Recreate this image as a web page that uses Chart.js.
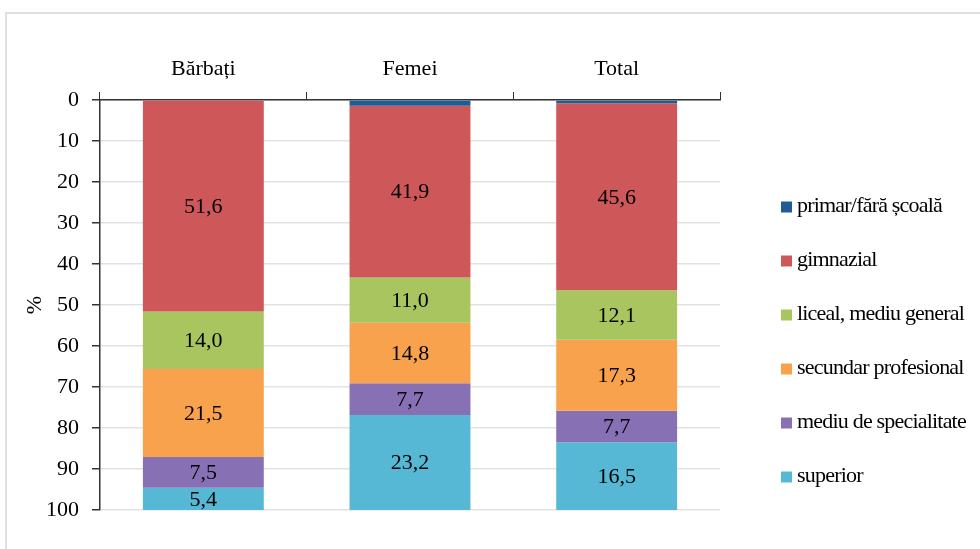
<!DOCTYPE html>
<html>
<head>
<meta charset="utf-8">
<script src="https://cdn.jsdelivr.net/npm/chart.js@4"></script>
<style>
  html, body { margin: 0; padding: 0; background: #fff; }
  #wrap { position: relative; width: 980px; height: 549px; }
  #frame { position: absolute; left: 5px; top: 12px; right: -10px; bottom: -10px;
           border-left: 2px solid #e0e0e0; border-top: 2px solid #e0e0e0; }
  canvas { position: absolute; left: 0; top: 0; }
</style>
</head>
<body>
<div id="wrap">
  <div id="frame"></div>
  <canvas id="c" width="980" height="549"></canvas>
</div>
<script>
const categories = ['Bărbați', 'Femei', 'Total'];
const seriesNames = ['primar/fără școală', 'gimnazial', 'liceal, mediu general',
                     'secundar profesional', 'mediu de specialitate', 'superior'];
const primar     = [0.0, 1.4, 0.8];
const gimnazial  = [51.6, 41.9, 45.6];
const liceal     = [14.0, 11.0, 12.1];
const secundar   = [21.5, 14.8, 17.3];
const mediu      = [7.5, 7.7, 7.7];
const superior   = [5.4, 23.2, 16.5];
const yTicks     = [0, 10, 20, 30, 40, 50, 60, 70, 80, 90, 100];
const colors = ['#1f5c96', '#cd5759', '#a8c560', '#f8a24e', '#8870b4', '#56b8d4'];
const showLabels = [false, true, true, true, true, true];

const FONT = 'Liberation Serif, Times New Roman, serif';
const values = [primar, gimnazial, liceal, secundar, mediu, superior];

const datasets = values.map((v, i) => ({
  label: seriesNames[i],
  data: v,
  backgroundColor: colors[i],
  borderWidth: 0,
  categoryPercentage: 1.0,
  barPercentage: 0.585
}));

const labelPlugin = {
  id: 'segLabels',
  afterDatasetsDraw(chart) {
    const ctx = chart.ctx;
    ctx.save();
    ctx.font = '22px ' + FONT;
    ctx.fillStyle = '#000';
    ctx.textAlign = 'center';
    ctx.textBaseline = 'middle';
    chart.data.datasets.forEach((ds, di) => {
      if (!showLabels[di]) return;
      const meta = chart.getDatasetMeta(di);
      meta.data.forEach((bar, j) => {
        const p = bar.getProps(['x', 'y', 'base'], true);
        const cy = (p.y + p.base) / 2;
        ctx.fillText(ds.data[j].toFixed(1).replace('.', ','), p.x, cy + 1);
      });
    });
    ctx.restore();
  }
};

const legendPlugin = {
  id: 'sideLegend',
  afterDraw(chart) {
    const ctx = chart.ctx;
    ctx.save();
    ctx.font = '22px ' + FONT;
    try { ctx.letterSpacing = '-0.8px'; } catch (e) {}
    ctx.textAlign = 'left';
    ctx.textBaseline = 'alphabetic';
    const x0 = 781, y0 = 207, step = 54, box = 11;
    chart.data.datasets.forEach((ds, i) => {
      const cy = y0 + i * step;
      ctx.fillStyle = ds.backgroundColor;
      ctx.fillRect(x0, cy - box / 2, box, box);
      ctx.fillStyle = '#000';
      ctx.fillText(ds.label, x0 + 16, cy + 5);
    });
    ctx.restore();
  }
};

new Chart(document.getElementById('c'), {
  type: 'bar',
  data: { labels: categories, datasets },
  plugins: [labelPlugin, legendPlugin],
  options: {
    responsive: false,
    animation: false,
    devicePixelRatio: 1,
    layout: { padding: { left: 0, top: 0, right: 260, bottom: 39 } },
    plugins: { legend: { display: false }, tooltip: { enabled: false } },
    scales: {
      x: {
        position: 'top',
        stacked: true,
        offset: true,
        afterFit(scale) { scale.height = 100; },
        grid: { drawOnChartArea: false, offset: true, tickLength: 8, tickColor: '#333', color: '#333' },
        border: { color: '#333', width: 1.5 },
        ticks: { color: '#000', font: { family: FONT, size: 22 }, padding: 10 }
      },
      y: {
        stacked: true,
        reverse: true,
        min: 0,
        max: 100,
        afterFit(scale) { scale.width = 100; },
        afterBuildTicks(scale) { scale.ticks = yTicks.map(v => ({ value: v })); },
        grid: { color: '#e2e2e2', lineWidth: 1.5, tickLength: 8, tickColor: '#333' },
        border: { color: '#333', width: 1.5 },
        ticks: { color: '#000', font: { family: FONT, size: 22 }, padding: 13 },
        title: { display: true, text: '%', color: '#000', font: { family: FONT, size: 22 }, padding: { top: 22, bottom: 0 } }
      }
    }
  }
});
</script>
</body>
</html>
